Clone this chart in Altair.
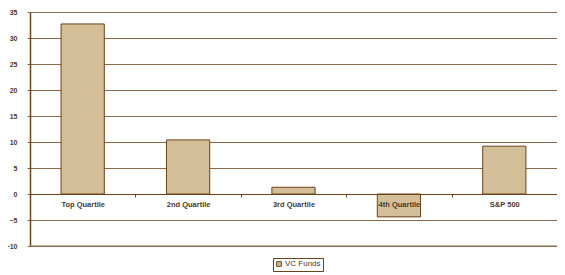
import altair as alt
import pandas as pd

categories = ["Top Quartile", "2nd Quartile", "3rd Quartile", "4th Quartile", "S&P 500"]
values = [32.7, 10.4, 1.3, -4.4, 9.2]
series = ["VC Funds"] * len(categories)
y_ticks = [-10, -5, 0, 5, 10, 15, 20, 25, 30, 35]

df = pd.DataFrame({"category": categories, "value": values, "series": series})

BROWN = "#6B4219"
GRID = "#8A6A48"
TAN = "#D4BE98"
TEXT = "#4A3A2A"
FONT = "Liberation Sans"

H = 234
zero_px = H * 35 / 45.0

yscale = alt.Scale(domain=[y_ticks[0], y_ticks[-1]], nice=False)
yaxis = alt.Axis(
    values=y_ticks,
    labelFont=FONT,
    labelFontSize=7,
    labelFontWeight="bold",
    labelColor=TEXT,
    labelPadding=10,
    labelOverlap=False,
    tickSize=3,
    tickColor=GRID,
    domainColor=BROWN,
    domainWidth=1.5,
    grid=True,
    gridColor=GRID,
    gridOpacity=1,
    gridWidth=1.2,
)

bars = alt.Chart(df).mark_bar(
    fill=TAN, stroke=BROWN, strokeWidth=1, width={"band": 0.41}
).encode(
    x=alt.X(
        "category:N",
        sort=categories,
        title=None,
        scale=alt.Scale(paddingInner=0, paddingOuter=0),
        axis=alt.Axis(
            orient="bottom",
            offset=-(H - zero_px),
            zindex=2,
            labelAngle=0,
            labelFont=FONT,
            labelFontSize=7.5,
            labelFontWeight="bold",
            labelColor=TEXT,
            labelPadding=3,
            labelOverlap=False,
            tickBand="extent",
            tickSize=3,
            tickColor=BROWN,
            domainColor=BROWN,
            domain=True,
            grid=False,
        ),
    ),
    y=alt.Y("value:Q", title=None, scale=yscale, axis=yaxis),
    color=alt.Color(
        "series:N",
        scale=alt.Scale(range=[TAN]),
        legend=alt.Legend(
            title=None,
            orient="none",
            legendX=243,
            legendY=246,
            symbolType="square",
            symbolSize=22,
            symbolStrokeColor=BROWN,
            symbolStrokeWidth=1,
            labelFont=FONT,
            labelFontSize=8,
            labelColor=TEXT,
            labelOffset=2,
            strokeColor=BROWN,
            fillColor="white",
            padding=2,
            cornerRadius=0,
        ),
    ),
)

bottom_grid = alt.Chart().mark_rule(color=GRID, strokeWidth=1.2).encode(
    y=alt.datum(y_ticks[0], scale=yscale, axis=yaxis, title=None)
)

chart = alt.layer(bars, bottom_grid).properties(
    width=527,
    height=H,
    autosize=alt.AutoSizeParams(type="none"),
    padding={"left": 22, "top": 4, "right": 0, "bottom": 28},
).configure_view(stroke=None)

chart.save("out.html", embed_options={"renderer": "svg", "actions": False})
